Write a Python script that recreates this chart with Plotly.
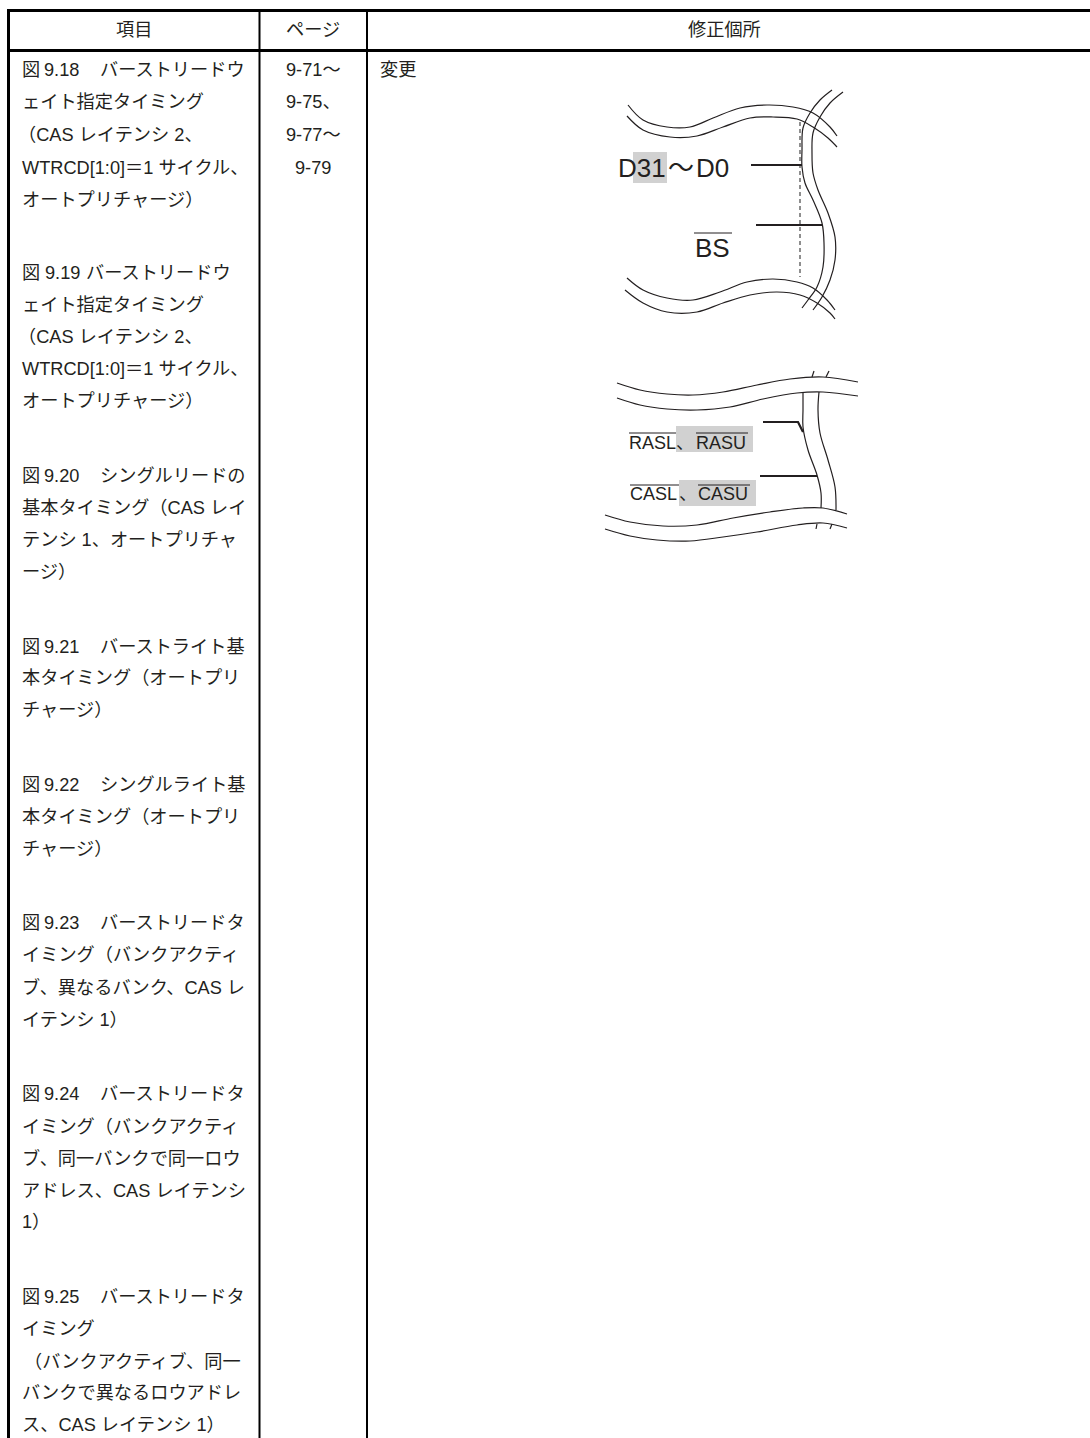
import plotly.graph_objects as go

FONT = "Liberation Sans, Noto Sans CJK JP"
INK = "#231f20"
BASE = 18.2

# header cells: text, centre x
header_cells = [("項目", 134), ("ページ", 313), ("修正個所", 724)]
header_y = 30

# item column: (y, [(x, text), ...])
item_lines = [
    (70, [(22, "図"), (44, "9.18"), (100, "バーストリードウ")]),
    (102, [(22, "ェイト指定タイミング")]),
    (135, [(18, "（CAS レイテンシ 2、")]),
    (168, [(22, "WTRCD[1:0]＝1 サイクル、")]),
    (200, [(22, "オートプリチャージ）")]),
    (273, [(22, "図"), (45, "9.19"), (86, "バーストリードウ")]),
    (305, [(22, "ェイト指定タイミング")]),
    (337, [(18, "（CAS レイテンシ 2、")]),
    (369, [(22, "WTRCD[1:0]＝1 サイクル、")]),
    (401, [(22, "オートプリチャージ）")]),
    (476, [(22, "図"), (44, "9.20"), (100, "シングルリードの")]),
    (508, [(22, "基本タイミング（CAS レイ")]),
    (540, [(22, "テンシ 1、オートプリチャ")]),
    (572, [(22, "ージ）")]),
    (647, [(22, "図"), (44, "9.21"), (100, "バーストライト基")]),
    (678, [(22, "本タイミング（オートプリ")]),
    (710, [(22, "チャージ）")]),
    (785, [(22, "図"), (44, "9.22"), (100, "シングルライト基")]),
    (817, [(22, "本タイミング（オートプリ")]),
    (849, [(22, "チャージ）")]),
    (923, [(22, "図"), (44, "9.23"), (100, "バーストリードタ")]),
    (955, [(22, "イミング（バンクアクティ")]),
    (987, [(22, "ブ、異なるバンク、CAS レ")]),
    (1020, [(22, "イテンシ 1）")]),
    (1094, [(22, "図"), (44, "9.24"), (100, "バーストリードタ")]),
    (1127, [(22, "イミング（バンクアクティ")]),
    (1158, [(22, "ブ、同一バンクで同一ロウ")]),
    (1191, [(22, "アドレス、CAS レイテンシ")]),
    (1222, [(22, "1）")]),
    (1297, [(22, "図"), (44, "9.25"), (100, "バーストリードタ")]),
    (1329, [(22, "イミング")]),
    (1361, [(24, "（バンクアクティブ、同一")]),
    (1393, [(22, "バンクで異なるロウアドレ")]),
    (1425, [(22, "ス、CAS レイテンシ 1）")]),
]

# page column: (y, x, text)
page_lines = [(70, 286, "9-71～"), (102, 286, "9-75、"), (135, 286, "9-77～"), (168, 295, "9-79")]

change_label = (380, 70, "変更")

# diagram labels: (x, y, text, size)
diagram_labels = [
    (618, 168, "D31", 26), (668, 168, "～", 26), (696, 168, "D0", 26),
    (695, 248, "BS", 26),
    (629, 443, "RASL", 18), (676, 443, "、", 18), (696, 443, "RASU", 18),
    (630, 494, "CASL", 18), (679, 494, "、", 18), (698, 494, "CASU", 18),
]

# grey highlight boxes: x0, x1, y0, y1
highlight_boxes = [
    (633, 667, 152, 183),
    (676, 753, 426, 452),
    (679, 756, 480, 506),
]

# table rules: x0, y0, x1, y1, width
table_rules = [
    (7, 10.5, 1090, 10.5, 3),
    (7, 50.5, 1090, 50.5, 3),
    (8.5, 9, 8.5, 1438, 3),
    (259.5, 9, 259.5, 1438, 2),
    (367, 9, 367, 1438, 2),
]

# upper diagram strokes
upper_waves = [
    [(628, 105), (643, 120), (667, 127), (690, 127), (713, 118), (740, 108), (767, 105), (793, 107), (813, 113), (830, 127), (837, 136)],
    [(627, 116), (643, 130), (670, 137), (697, 136), (723, 127), (750, 118), (773, 117), (797, 119), (813, 127), (828, 138), (837, 147)],
    [(832, 90), (820, 100), (810, 113), (803, 128), (802, 150), (802, 167), (805, 183), (813, 200), (822, 223), (824, 243), (823, 267), (817, 287), (808, 300), (802, 308)],
    [(843, 92), (830, 103), (820, 117), (813, 133), (812, 153), (813, 173), (818, 190), (828, 213), (835, 237), (835, 260), (830, 280), (822, 297), (813, 310)],
    [(627, 278), (643, 290), (667, 298), (693, 300), (720, 292), (747, 282), (773, 279), (797, 282), (813, 288), (827, 300), (835, 310)],
    [(625, 290), (643, 303), (667, 312), (697, 312), (723, 303), (750, 295), (777, 292), (800, 295), (817, 303), (830, 313), (835, 319)],
]
upper_dash = [(800, 122), (800, 277)]
upper_bars = [[(751, 165), (802, 165)], [(756, 225), (822, 225)]]
upper_overlines = [[(694, 233), (732, 233)]]

# lower diagram strokes
lower_waves = [
    [(617, 383), (640, 390), (667, 394), (693, 395), (723, 392), (757, 385), (790, 379), (823, 377), (858, 382)],
    [(617, 398), (640, 405), (667, 409), (697, 410), (730, 407), (763, 399), (797, 393), (823, 392), (858, 396)],
    [(605, 515), (630, 522), (663, 526), (697, 525), (733, 518), (770, 512), (803, 508), (823, 508), (847, 514)],
    [(605, 529), (630, 536), (657, 540), (690, 541), (723, 537), (757, 532), (797, 525), (823, 523), (847, 528)],
    [(803, 393), (803, 410), (803, 427), (808, 450), (817, 475), (821, 493), (821, 508)],
    [(819, 392), (818, 410), (820, 433), (828, 460), (835, 487), (836, 510)],
    [(812, 377), (814, 371)], [(826, 377), (829, 371)],
    [(816, 529), (817, 524)], [(830, 529), (832, 524)],
]
lower_bars = [[(763, 422), (798, 422), (803, 432)], [(760, 476), (817, 476)]]
lower_overlines = [
    [(629, 433), (676, 433)], [(696, 433), (748, 433)],
    [(630, 485), (679, 485)], [(698, 485), (750, 485)],
]

fig = go.Figure()


def stroke(points, width, color=INK, shape="linear", dash="solid"):
    fig.add_trace(go.Scatter(
        x=[p[0] for p in points], y=[p[1] for p in points], mode="lines",
        line=dict(color=color, width=width, shape=shape, dash=dash, smoothing=1.0),
        hoverinfo="skip", showlegend=False,
    ))


def label(x, y, text, size=BASE, anchor="left"):
    fig.add_annotation(x=x, y=y, text=text, showarrow=False, xanchor=anchor, yanchor="middle",
                       xshift=0, yshift=0, borderpad=0, borderwidth=0,
                       font=dict(family=FONT, size=size, color=INK))


for x0, x1, y0, y1 in highlight_boxes:
    fig.add_shape(type="rect", x0=x0, x1=x1, y0=y0, y1=y1, fillcolor="#d1d1d1", line_width=0, layer="below")

for x0, y0, x1, y1, w in table_rules:
    stroke([(x0, y0), (x1, y1)], w, color="#000000")

for wave in upper_waves + lower_waves:
    stroke(wave, 1.2, shape="spline")
stroke(upper_dash, 1.2, dash="4px,3px", color="#444444")
for bar in upper_bars + lower_bars:
    stroke(bar, 2.2)
for over in upper_overlines + lower_overlines:
    stroke(over, 1)

for text, x in header_cells:
    label(x, header_y, text, anchor="center")
for y, parts in item_lines:
    for x, text in parts:
        label(x, y, text)
for y, x, text in page_lines:
    label(x, y, text)
label(change_label[0], change_label[1], change_label[2])
for x, y, text, size in diagram_labels:
    label(x, y, text, size)

fig.update_layout(
    width=1090, height=1438, margin=dict(l=0, r=0, t=0, b=0),
    paper_bgcolor="white", plot_bgcolor="white", showlegend=False,
    xaxis=dict(range=[0, 1090], visible=False, fixedrange=True),
    yaxis=dict(range=[1438, 0], visible=False, fixedrange=True),
)
fig.write_html("out.html", config={"displayModeBar": False},
               post_script="document.body.style.margin='0';document.body.style.overflow='hidden';")
